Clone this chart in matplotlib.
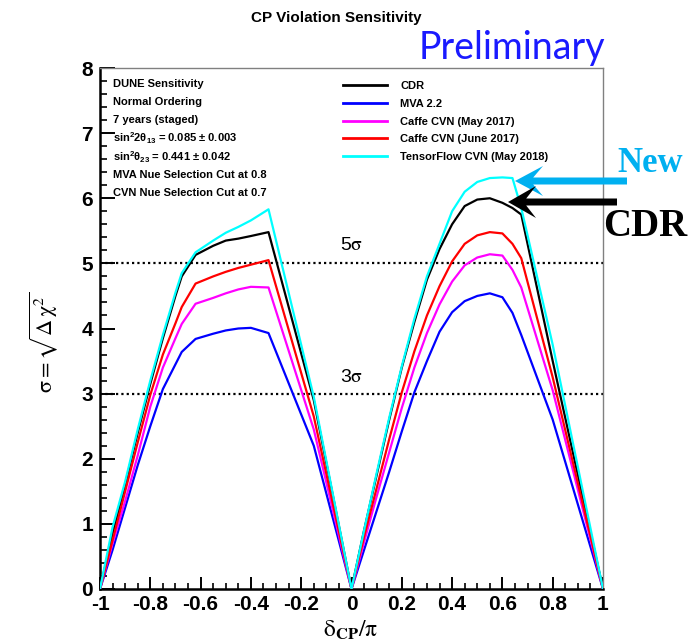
import matplotlib
matplotlib.use("Agg")
import matplotlib.pyplot as plt
from matplotlib.patches import FancyArrow
from matplotlib.ticker import MultipleLocator

plt.rcParams['font.family'] = ['Liberation Sans', 'DejaVu Sans']
plt.rcParams['mathtext.fontset'] = 'custom'
plt.rcParams['mathtext.rm'] = 'Liberation Sans:bold'
plt.rcParams['mathtext.it'] = 'Liberation Sans:bold'
plt.rcParams['mathtext.bf'] = 'Liberation Sans:bold'

# delta_CP / pi sample points
dcp = [-1, -0.95, -0.9, -0.85, -0.8, -0.75, -0.7, -0.675, -0.62, -0.55, -0.5,
       -0.45, -0.4, -0.33, -0.15, 0,
       0.05, 0.1, 0.15, 0.2, 0.25, 0.3, 0.35, 0.4, 0.45, 0.5, 0.55, 0.6,
       0.64, 0.675, 0.8, 1]

sig_cdr = [0, 0.85, 1.6, 2.4, 3.15, 3.85, 4.5, 4.8, 5.13, 5.27, 5.35, 5.38, 5.42, 5.48, 2.9, 0,
           0.9, 1.75, 2.6, 3.4, 4.1, 4.75, 5.22, 5.6, 5.88, 5.98, 6.0, 5.93, 5.85, 5.75, 3.5, 0]
sig_mva = [0, 0.6, 1.25, 1.9, 2.5, 3.07, 3.45, 3.64, 3.84, 3.92, 3.97, 4.0, 4.01, 3.93, 2.2, 0,
           0.6, 1.2, 1.8, 2.42, 3.02, 3.5, 3.95, 4.25, 4.42, 4.5, 4.54, 4.48, 4.24, 3.9, 2.6, 0]
sig_caffe_may = [0, 0.7, 1.35, 2.05, 2.8, 3.4, 3.85, 4.07, 4.38, 4.47, 4.54, 4.6, 4.64, 4.63, 2.45, 0,
                 0.72, 1.42, 2.1, 2.78, 3.4, 3.93, 4.37, 4.72, 4.97, 5.09, 5.14, 5.12, 4.9, 4.63, 3.05, 0]
sig_caffe_june = [0, 0.75, 1.5, 2.25, 2.98, 3.6, 4.08, 4.33, 4.69, 4.8, 4.87, 4.93, 4.98, 5.05, 2.65, 0,
                  0.8, 1.55, 2.3, 3.02, 3.65, 4.2, 4.65, 5.03, 5.3, 5.43, 5.48, 5.46, 5.3, 5.08, 3.25, 0]
sig_tf = [0, 0.95, 1.65, 2.45, 3.2, 3.9, 4.55, 4.85, 5.17, 5.35, 5.47, 5.56, 5.66, 5.83, 2.95, 0,
          0.9, 1.78, 2.63, 3.42, 4.15, 4.8, 5.3, 5.8, 6.1, 6.25, 6.31, 6.32, 6.31, 5.85, 3.75, 0]

labels = ['CDR', 'MVA 2.2', 'Caffe CVN (May 2017)', 'Caffe CVN (June 2017)',
          'TensorFlow CVN (May 2018)']
colors = ['black', '#0000ff', '#ff00ff', '#ff0000', '#00ffff']
series = [sig_cdr, sig_mva, sig_caffe_may, sig_caffe_june, sig_tf]

xtick_vals = [-1, -0.8, -0.6, -0.4, -0.2, 0, 0.2, 0.4, 0.6, 0.8, 1]
xtick_text = ['-1', '-0.8', '-0.6', '-0.4', '-0.2', '0', '0.2', '0.4', '0.6', '0.8', '1']

info_lines = ['DUNE Sensitivity', 'Normal Ordering', '7 years (staged)',
              r'sin$^{2}$2$\theta_{13}$ = 0.085 ± 0.003',
              r'sin$^{2}$$\theta_{23}$ = 0.441 ± 0.042',
              'MVA Nue Selection Cut at 0.8', 'CVN Nue Selection Cut at 0.7']

W, H = 697, 644
fig = plt.figure(figsize=(W / 100, H / 100), dpi=100)
ax = fig.add_axes([100 / W, 55 / H, 503 / W, 521 / H])

handles = []
for ys, c, lab in zip(series, colors, labels):
    h, = ax.plot(dcp, ys, color=c, lw=1.6, label=lab, zorder=3)
    handles.append(h)

for lvl in (3, 5):
    ax.axhline(lvl, color='black', lw=1.6, ls=(0, (1, 1.4)), zorder=2)
ax.text(-0.045, 5.27, r'5$\mathrm{\sigma}$', fontsize=14,
        va='center', ha='left', math_fontfamily='stix')
ax.text(-0.045, 3.25, r'3$\mathrm{\sigma}$', fontsize=14,
        va='center', ha='left', math_fontfamily='stix')

ax.set_xlim(-1, 1)
ax.set_ylim(0, 8)
ax.xaxis.set_minor_locator(MultipleLocator(0.05))
ax.yaxis.set_major_locator(MultipleLocator(1))
ax.yaxis.set_minor_locator(MultipleLocator(0.2))
ax.set_xticks(xtick_vals)
ax.set_xticklabels(xtick_text)
ax.tick_params(which='both', direction='in', top=False, right=False, labelsize=15)
ax.tick_params(axis='x', which='major', length=8.5, width=1.4, pad=4)
ax.tick_params(axis='x', which='minor', length=4, width=1.2)
ax.tick_params(axis='y', which='major', length=10.5, width=1.4, pad=5)
ax.tick_params(axis='y', which='minor', length=5, width=1.2)
for lbl in ax.get_xticklabels() + ax.get_yticklabels():
    lbl.set_fontweight('bold')
for side in ('left', 'bottom'):
    ax.spines[side].set_linewidth(1.8)
    ax.spines[side].set_color('black')
for side in ('top', 'right'):
    ax.spines[side].set_linewidth(1.0)
    ax.spines[side].set_color('#808080')

leg = ax.legend(handles=handles, loc='upper left', bbox_to_anchor=(0.483, 0.975),
                frameon=False, prop={'weight': 'bold', 'size': 8},
                handlelength=4.0, handletextpad=1.15, labelspacing=0.7,
                borderpad=0, borderaxespad=0)
for ln in leg.get_lines():
    ln.set_linewidth(2.0)

# overlay in pixel units for titles, axis titles and arrows
ov = fig.add_axes([0, 0, 1, 1], zorder=5)
ov.set_xlim(0, W)
ov.set_ylim(H, 0)
ov.axis('off')
ov.patch.set_alpha(0)

for i, line in enumerate(info_lines):
    ov.text(113, 84 + i * 18.2, line, fontsize=8, fontweight='bold', va='center', ha='left')

ov.text(336, 18, 'CP Violation Sensitivity', fontsize=11, fontweight='bold',
        ha='center', va='center')
ov.text(512, 59, 'Preliminary', fontsize=27, color='#1a1aff',
        family=['Lato', 'DejaVu Sans'], ha='center', va='baseline')
ov.text(44, 342, r'$\mathrm{\sigma} = \sqrt{\mathrm{\Delta}\,\mathrm{\chi}^{2}}$', rotation=90,
        fontsize=16, math_fontfamily='stix', ha='center', va='center')
ov.text(351, 630, r'$\mathrm{\delta}_{\mathbf{CP}}/\mathrm{\pi}$', fontsize=17,
        math_fontfamily='stix', ha='center', va='center')

ov.add_patch(FancyArrow(627, 181, -112, 0, width=7, head_width=30, head_length=28,
                        overhang=0.35, length_includes_head=True,
                        color='#00b0f0', lw=0))
ov.add_patch(FancyArrow(617, 202, -109, 0, width=7, head_width=32, head_length=28,
                        overhang=0.35, length_includes_head=True,
                        color='black', lw=0))
ov.text(650, 163, 'New', fontsize=25, fontweight='bold', color='#00b0f0',
        family=['Liberation Serif', 'DejaVu Serif'], ha='center', va='center')
ov.text(645, 226, 'CDR', fontsize=28, fontweight='bold', color='black',
        family=['Liberation Serif', 'DejaVu Serif'], ha='center', va='center')

fig.savefig('out.png', dpi=100)
